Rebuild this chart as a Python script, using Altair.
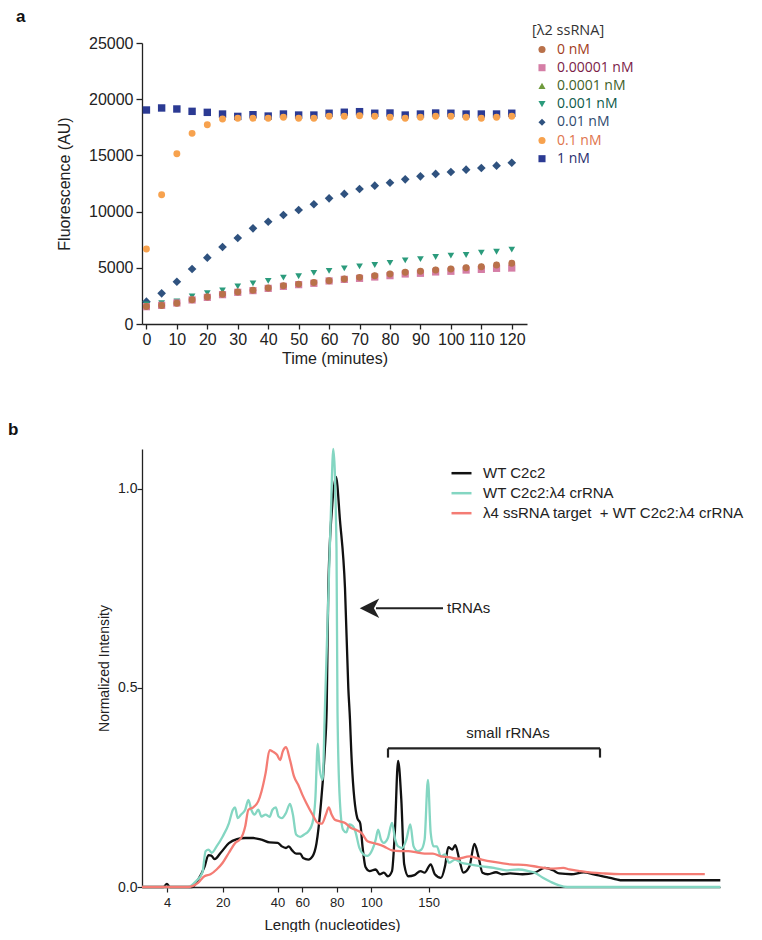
import json
import altair as alt
import pandas as pd

# ---------------- Panel a data ----------------
times = list(range(0, 125, 5))
conc_labels = ["0 nM", "0.00001 nM", "0.0001 nM", "0.001 nM", "0.01 nM", "0.1 nM", "1 nM"]

fluor_0 = [1550, 1650, 1850, 2150, 2400, 2650, 2850, 3000, 3200, 3400, 3550, 3700, 3850,
           4000, 4150, 4300, 4450, 4600, 4700, 4800, 4900, 5000, 5100, 5250, 5400]
fluor_1e5 = [1540, 1660, 1870, 2140, 2370, 2610, 2820, 2970, 3170, 3350, 3500, 3620, 3830,
             3970, 4060, 4180, 4300, 4450, 4510, 4630, 4690, 4800, 4860, 4950, 4980]
fluor_1e4 = [1600, 1700, 1900, 2250, 2550, 2750, 2900, 3050, 3250, 3450, 3600, 3750, 3900,
             4050, 4200, 4350, 4500, 4650, 4750, 4850, 4950, 5050, 5150, 5300, 5450]
fluor_1e3 = [1750, 1850, 2000, 2450, 2750, 3000, 3350, 3620, 3830, 4120, 4250, 4550, 4720,
             4950, 5130, 5250, 5430, 5660, 5780, 5960, 6080, 6140, 6350, 6430, 6610]
fluor_1e2 = [1990, 2730, 3760, 4890, 5900, 6850, 7650, 8510, 9100, 9700, 10140, 10650, 11180,
             11570, 12010, 12310, 12570, 12870, 13140, 13350, 13520, 13730, 13880, 14090, 14350]
fluor_1e1 = [6670, 11500, 15150, 16960, 17730, 18240, 18300, 18300, 18300, 18390, 18300, 18300,
             18480, 18480, 18530, 18480, 18390, 18300, 18390, 18480, 18480, 18390, 18300, 18390, 18480]
fluor_1 = [19040, 19220, 19130, 18920, 18830, 18680, 18470, 18620, 18500, 18680, 18590, 18590,
           18750, 18840, 18890, 18750, 18770, 18590, 18680, 18770, 18750, 18680, 18680, 18680, 18750]
series_a = [fluor_0, fluor_1e5, fluor_1e4, fluor_1e3, fluor_1e2, fluor_1e1, fluor_1]

symbol_colors = ["#b9714a", "#d57ea6", "#6f9a3c", "#2b9b7c", "#2f527f", "#f7a24e", "#2b3a93"]
label_colors = ["#a23c20", "#7b1c48", "#3f5f28", "#0d5a4a", "#2f4a6e", "#e0744c", "#2a2f6e"]
symbol_shapes = ["circle", "square", "triangle-up", "triangle-down", "diamond", "circle", "square"]
symbol_sizes = [48, 52, 45, 45, 75, 48, 55]
draw_order = [4, 3, 2, 1, 0, 6, 5]

rows = []
for label, vals, z, s in zip(conc_labels, series_a, draw_order, symbol_sizes):
    for t, v in zip(times, vals):
        rows.append({"time": t, "value": v, "conc": label, "z": z, "sz": s})
df_a = pd.DataFrame(rows)

# ---------------- Panel b data ----------------
# x: migration position (arbitrary units along the trace), y: normalized intensity
ladder_pos = [25, 80.7, 135.5, 160.3, 194.8, 229.3, 286.7]
ladder_labels = ["4", "20", "40", "60", "80", "100", "150"]
sample_names = ["WT C2c2", "WT C2c2:λ4 crRNA", "λ4 ssRNA target \u00a0+ WT C2c2:λ4 crRNA"]

wt_x = [0, 21.6, 24.9, 27.7, 50.2, 56.3, 62.4, 66.5, 69.3, 72.6, 78.7, 86.9, 95.0, 103.2, 111.3,
        119.5, 127.6, 135.8, 139.9, 144.0, 146.8, 150.1, 154.1, 158.2, 161.1, 166.4, 170.5, 174.5,
        178.6, 182.7, 184.7, 186.3, 190.3, 194.0, 198.0, 203.0, 206.3, 208.0, 209.2, 215.3, 218.2,
        220.6, 223.5, 227.6, 233.7, 237.7, 241.8, 245.9, 250.0, 252.8, 256.1, 259.3, 262.2, 266.3,
        272.4, 278.5, 282.6, 288.7, 292.8, 298.9, 303.0, 306.3, 310.3, 313.2, 317.3, 321.4, 327.5,
        332.4, 336.4, 340.5, 345.8, 354.0, 360.1, 368.2, 380.5, 392.7, 402.9, 411.1, 417.2, 429.4,
        441.6, 451.8, 462.0, 468.2, 474.3, 478.4, 578.3]
wt_y = [0, 0, 0.008, 0, 0, 0.019, 0.05, 0.08, 0.079, 0.07, 0.086, 0.11, 0.12, 0.123, 0.123,
        0.119, 0.112, 0.111, 0.102, 0.098, 0.102, 0.092, 0.084, 0.084, 0.073, 0.069, 0.077, 0.11,
        0.2, 0.34, 0.45, 0.75, 0.96, 1.03, 0.92, 0.75, 0.5, 0.42, 0.344, 0.173, 0.16,
        0.10, 0.05, 0.04, 0.044, 0.032, 0.036, 0.027, 0.04, 0.136, 0.317, 0.22, 0.057, 0.027,
        0.03, 0.04, 0.036, 0.057, 0.032, 0.023, 0.052, 0.10, 0.094, 0.105, 0.069, 0.036, 0.052,
        0.108, 0.077, 0.036, 0.032, 0.037, 0.032, 0.034, 0.032, 0.036, 0.048, 0.042, 0.034, 0.032,
        0.037, 0.032, 0.026, 0.023, 0.019, 0.017, 0.017]

crrna_x = [0, 46.1, 54.2, 60.4, 63.6, 66.5, 69.7, 74.6, 80.7, 86.9, 90.9, 93.0, 95.8, 99.1, 103.2,
           106.4, 109.3, 112.6, 116.2, 119.5, 123.6, 127.6, 130.5, 133.8, 136.6, 139.9, 144.0,
           148.0, 150.9, 154.1, 158.2, 162.3, 166.4, 170.5, 173.3, 175.8, 177.8, 180.7, 182.7,
           186.0, 189.0, 191.3, 194.5, 195.5, 197.8, 201.0, 204.3, 207.2, 210.4, 213.3, 217.4,
           221.4, 225.5, 230.4, 233.7, 236.1, 239.0, 241.8, 245.9, 250.0, 253.2, 256.1, 260.2,
           264.3, 268.3, 271.6, 275.7, 279.3, 282.6, 285.9, 288.7, 291.6, 294.8, 298.9, 303.0,
           307.1, 313.2, 319.3, 327.5, 339.7, 351.9, 364.2, 376.4, 386.6, 392.7, 400.9, 409.0,
           417.2, 425.3, 578.3]
crrna_y = [0, 0, 0.015, 0.036, 0.09, 0.094, 0.086, 0.102, 0.127, 0.16, 0.194, 0.2, 0.173, 0.182,
           0.194, 0.219, 0.194, 0.182, 0.194, 0.177, 0.182, 0.176, 0.194, 0.2, 0.177, 0.173, 0.186,
           0.209, 0.182, 0.132, 0.126, 0.132, 0.14, 0.161, 0.219, 0.36, 0.294, 0.269, 0.43,
           0.7, 0.95, 1.10, 0.85, 0.44, 0.219, 0.144, 0.137, 0.157, 0.154, 0.14, 0.098,
           0.082, 0.078, 0.094, 0.119, 0.144, 0.119, 0.111, 0.123, 0.161, 0.119, 0.102, 0.098,
           0.119, 0.157, 0.102, 0.09, 0.094, 0.119, 0.269, 0.136, 0.102, 0.102, 0.077, 0.082,
           0.061, 0.069, 0.061, 0.057, 0.052, 0.048, 0.042, 0.044, 0.04, 0.036, 0.023, 0.0125,
           0.004, 0, 0]

target_x = [0, 46.1, 56.3, 62.4, 68.5, 74.6, 80.7, 86.9, 93.0, 99.1, 103.2, 106.4, 111.3, 116.2,
            119.5, 123.6, 127.6, 130.9, 135.0, 138.2, 140.7, 144.0, 148.0, 152.1, 156.2, 160.3,
            164.3, 170.5, 175.8, 179.8, 183.9, 186.8, 189.6, 192.9, 197.8, 203.1, 209.2, 215.3,
            219.4, 225.5, 233.7, 241.8, 250.0, 258.1, 266.3, 274.5, 282.6, 290.8, 298.9, 307.1,
            315.2, 327.5, 339.7, 351.9, 368.2, 384.6, 396.8, 409.0, 421.3, 427.4, 437.6, 449.8,
            462.0, 478.4, 562.8]
target_y = [0, 0, 0.011, 0.027, 0.032, 0.044, 0.061, 0.086, 0.11, 0.123, 0.152, 0.194, 0.2, 0.215,
            0.24, 0.286, 0.344, 0.34, 0.332, 0.319, 0.34, 0.351, 0.319, 0.277, 0.257, 0.232,
            0.211, 0.182, 0.161, 0.159, 0.182, 0.2, 0.182, 0.169, 0.165, 0.161, 0.148, 0.142,
            0.136, 0.115, 0.109, 0.102, 0.092, 0.09, 0.09, 0.087, 0.084, 0.084, 0.077, 0.075,
            0.071, 0.077, 0.069, 0.063, 0.057, 0.055, 0.05, 0.046, 0.048, 0.044, 0.04, 0.036,
            0.034, 0.0325, 0.0325]

line_colors = ["#111111", "#84d6c2", "#f47c74"]

# annotations (data coordinates)
bracket_x = [246, 458]
bracket_y = [0.348, 0.325]
rrna_text = {"x": 366, "y": 0.386, "label": "small rRNAs"}
arrow_x = [301, 234]
arrow_head_x = 227.5
arrow_y = 0.70
trna_text = {"x": 305, "y": 0.70, "label": "tRNAs"}

rows_b = []
for name, xs, ys in zip(sample_names, [wt_x, crrna_x, target_x], [wt_y, crrna_y, target_y]):
    for x, y in zip(xs, ys):
        rows_b.append({"pos": x, "intensity": y, "sample": name})
df_b = pd.DataFrame(rows_b)

FONT = "Liberation Sans"
AXCOL = "#222222"

# ---------------- Panel a chart ----------------
label_color_expr = "{}[indexof({}, datum.label)]".format(json.dumps(label_colors),
                                                          json.dumps(conc_labels))
legend_a = alt.Legend(
    title="[λ2 ssRNA]", orient="none", legendX=390, legendY=-19,
    titleFont="Open Sans", titleFontSize=14.5, titleFontWeight="normal", titleColor="#333333",
    titlePadding=4, labelFont="Open Sans", labelFontSize=14, labelBaseline="middle",
    labelColor={"expr": label_color_expr}, symbolSize=50, symbolOffset=3, labelOffset=8,
    rowPadding=4.2, symbolStrokeWidth=0,
)

x_a = alt.X("time:Q", scale=alt.Scale(domain=[-1.45, 125], nice=False, zero=False),
            axis=alt.Axis(values=list(range(0, 121, 10)), title="Time (minutes)", grid=False,
                          labelFont=FONT, labelFontSize=16, titleFont=FONT, titleFontSize=16,
                          titleFontWeight="normal", labelColor=AXCOL, titleColor=AXCOL,
                          domainColor=AXCOL, tickColor=AXCOL, domainWidth=1.3, tickWidth=1.3,
                          tickSize=5, labelPadding=2, titlePadding=3, labelFlush=False,
                          labelOverlap=False))
y_a = alt.Y("value:Q", scale=alt.Scale(domain=[0, 25000], nice=False),
            axis=alt.Axis(values=[0, 5000, 10000, 15000, 20000, 25000], format="d",
                          title="Fluorescence (AU)", grid=False,
                          labelFont=FONT, labelFontSize=16, titleFont=FONT, titleFontSize=16,
                          titleFontWeight="normal", labelColor=AXCOL, titleColor=AXCOL,
                          domainColor=AXCOL, tickColor=AXCOL, domainWidth=1.3, tickWidth=1.3,
                          tickSize=6, labelPadding=3, titlePadding=16))

points = alt.Chart(df_a).mark_point(filled=True, opacity=1).encode(
    x=x_a, y=y_a,
    color=alt.Color("conc:N", scale=alt.Scale(domain=conc_labels, range=symbol_colors),
                    legend=legend_a),
    shape=alt.Shape("conc:N", scale=alt.Scale(domain=conc_labels, range=symbol_shapes),
                    legend=legend_a),
    size=alt.Size("sz:Q", scale=None, legend=None),
    order=alt.Order("z:Q"),
)
tag_a = alt.Chart(pd.DataFrame({"t": ["a"]})).mark_text(
    font=FONT, fontSize=17, fontWeight="bold", align="left", baseline="top", color="#111"
).encode(text="t:N", x=alt.value(-126), y=alt.value(-34))

chart_a = alt.layer(points, tag_a).properties(width=385, height=281)

# ---------------- Panel b chart ----------------
label_expr_b = "{}[indexof({}, datum.value)]".format(json.dumps(ladder_labels),
                                                     json.dumps(ladder_pos))
x_b = alt.X("pos:Q", scale=alt.Scale(domain=[0, 578], nice=False, zero=False),
            axis=alt.Axis(values=ladder_pos, labelExpr=label_expr_b, title="Length (nucleotides)",
                          titleX=190, grid=False, labelFont=FONT, labelFontSize=13,
                          titleFont=FONT, titleFontSize=15, titleFontWeight="normal",
                          labelColor=AXCOL, titleColor=AXCOL, domainColor=AXCOL, tickColor=AXCOL,
                          domainWidth=1.3, tickWidth=1.2, tickSize=5, labelPadding=4,
                          titlePadding=8, labelFlush=False, labelOverlap=False))
y_b = alt.Y("intensity:Q", scale=alt.Scale(domain=[0, 1.1], nice=False),
            axis=alt.Axis(values=[0, 0.5, 1.0], format=".1f", title="Normalized Intensity",
                          grid=False, labelFont=FONT, labelFontSize=14, titleFont=FONT,
                          titleFontSize=14, titleFontWeight="normal", labelColor=AXCOL,
                          titleColor=AXCOL, domainColor=AXCOL, tickColor=AXCOL, domainWidth=1.3,
                          tickWidth=1.2, tickSize=5, labelPadding=0, titlePadding=6))

legend_b = alt.Legend(title=None, orient="none", legendX=308, legendY=12.7, symbolType="stroke",
                      symbolSize=400, symbolStrokeWidth=2.5, labelFont=FONT, labelFontSize=15,
                      labelColor="#222222", labelOffset=10, rowPadding=0, labelLimit=400)
color_b = alt.Color("sample:N", scale=alt.Scale(domain=sample_names, range=line_colors),
                    legend=legend_b)

line_layers = []
for name in sample_names:
    line_layers.append(
        alt.Chart(df_b).transform_filter(alt.datum.sample == name)
        .mark_line(strokeWidth=2.3, interpolate="monotone")
        .encode(x=x_b, y=y_b, color=color_b, order="pos:Q")
    )

seg_df = pd.DataFrame({
    "x": [bracket_x[0], bracket_x[0], bracket_x[1]],
    "x2": [bracket_x[1], bracket_x[0], bracket_x[1]],
    "y": [bracket_y[0], bracket_y[0], bracket_y[0]],
    "y2": [bracket_y[0], bracket_y[1], bracket_y[1]],
})
bracket = alt.Chart(seg_df).mark_rule(color="#222222", strokeWidth=2.2).encode(
    x="x:Q", x2="x2:Q", y="y:Q", y2="y2:Q")

arrow_df = pd.DataFrame({"x": [arrow_x[0]], "x2": [arrow_x[1]], "y": [arrow_y]})
arrow_line = alt.Chart(arrow_df).mark_rule(color="#222222", strokeWidth=2.2).encode(
    x="x:Q", x2="x2:Q", y="y:Q")
head_df = pd.DataFrame({"x": [arrow_head_x], "y": [arrow_y]})
arrow_head = alt.Chart(head_df).mark_point(
    shape="M -1 0 L 1 -1 L 0.45 0 L 1 1 Z", filled=True, size=380, color="#222222", opacity=1
).encode(x="x:Q", y="y:Q")

text_rrna = alt.Chart(pd.DataFrame([rrna_text])).mark_text(
    font=FONT, fontSize=15, align="center", baseline="middle", color="#222222"
).encode(x="x:Q", y="y:Q", text="label:N")
text_trna = alt.Chart(pd.DataFrame([trna_text])).mark_text(
    font=FONT, fontSize=15, align="left", baseline="middle", color="#222222"
).encode(x="x:Q", y="y:Q", text="label:N")

tag_b = alt.Chart(pd.DataFrame({"t": ["b"]})).mark_text(
    font=FONT, fontSize=17, fontWeight="bold", align="left", baseline="top", color="#111"
).encode(text="t:N", x=alt.value(-134), y=alt.value(-27))

chart_b = alt.layer(*line_layers, bracket, arrow_line, arrow_head, text_rrna, text_trna,
                    tag_b).properties(width=578, height=438)

chart = alt.vconcat(chart_a, chart_b, spacing=55).resolve_scale(
    color="independent", shape="independent"
).resolve_legend(
    color="independent", shape="independent"
).properties(
    padding={"left": 0, "top": 0, "right": 0, "bottom": 0}
).configure_view(stroke=None)

chart.save("out.html", embed_options={"renderer": "svg", "actions": False})
